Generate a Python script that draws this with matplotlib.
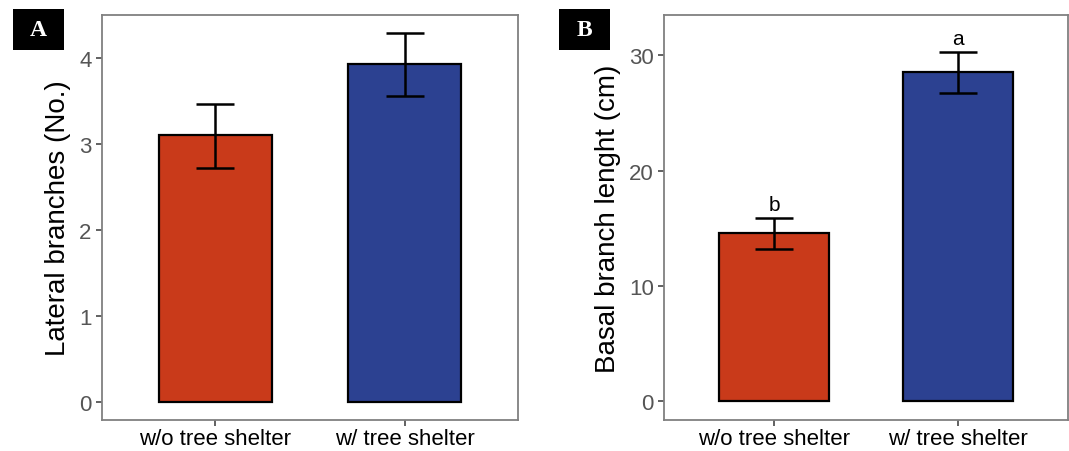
import matplotlib.pyplot as plt
from matplotlib.patches import Rectangle

# data
groups = ['w/o tree shelter', 'w/ tree shelter']
lateral_mean = [3.10, 3.93]
lateral_lo = [2.72, 3.56]
lateral_hi = [3.46, 4.29]
basal_mean = [14.57, 28.55]
basal_lo = [13.15, 26.76]
basal_hi = [15.87, 30.30]
basal_letters = ['b', 'a']

colors = ['#C93A1A', '#2C4191']

plt.rcParams['font.family'] = ['Liberation Sans', 'DejaVu Sans']

fig = plt.figure(figsize=(10.69, 4.52), dpi=100)
axA = fig.add_axes([0.0954, 0.0686, 0.3892, 0.896])
axB = fig.add_axes([0.6215, 0.0686, 0.3775, 0.896])


def panel(ax, means, lo, hi, ylabel, yticks, ylim):
    x = [1, 2]
    ax.bar(x, means, width=0.6, color=colors, edgecolor='black', linewidth=1.6, zorder=2)
    err = [[m - l for m, l in zip(means, lo)], [h - m for m, h in zip(means, hi)]]
    ax.errorbar(x, means, yerr=err, fmt='none', ecolor='black', elinewidth=1.8,
                capsize=13.5, capthick=1.8, zorder=3)
    ax.set_xlim(0.4, 2.6)
    ax.set_ylim(*ylim)
    ax.set_xticks(x)
    ax.set_xticklabels(groups, fontsize=16, color='black')
    ax.set_yticks(yticks)
    ax.set_yticklabels([str(t) for t in yticks], fontsize=16, color='#555555')
    ax.tick_params(axis='both', color='#555555', length=4, width=1.3)
    ax.tick_params(axis='x', pad=2)
    ax.set_ylabel(ylabel, fontsize=20, labelpad=6)
    for s in ax.spines.values():
        s.set_color('#808080')
        s.set_linewidth(1.3)


panel(axA, lateral_mean, lateral_lo, lateral_hi, 'Lateral branches (No.)',
      [0, 1, 2, 3, 4], (-0.215, 4.5))
panel(axB, basal_mean, basal_lo, basal_hi, 'Basal branch lenght (cm)',
      [0, 10, 20, 30], (-1.65, 33.5))

for i, (h, lab) in enumerate(zip(basal_hi, basal_letters)):
    axB.annotate(lab, (i + 1, h), xytext=(0, 3), textcoords='offset points',
                 ha='center', va='bottom', fontsize=15)

# panel tags
for tag, x0 in [('A', 0.0122), ('B', 0.523)]:
    fig.patches.append(Rectangle((x0, 0.8872), 0.0477, 0.0907, transform=fig.transFigure,
                                 facecolor='black', edgecolor='none'))
    fig.text(x0 + 0.0238, 0.9326, tag, ha='center', va='center', color='white',
             fontsize=17, fontweight='bold', family='Liberation Serif')

fig.savefig('out.png', dpi=100)
